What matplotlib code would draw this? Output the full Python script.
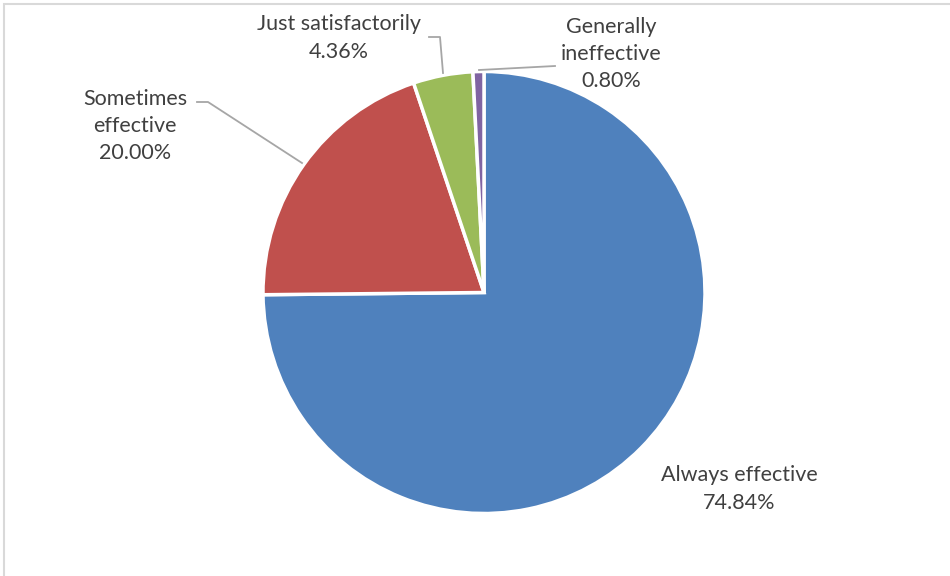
import numpy as np
import matplotlib.pyplot as plt
from matplotlib.patches import Rectangle

labels = ['Always effective', 'Sometimes\neffective', 'Just satisfactorily', 'Generally\nineffective']
values = [74.84, 20.00, 4.36, 0.80]
colors = ['#4F81BD', '#C0504D', '#9BBB59', '#8064A2']

W, H = 950, 576
fig = plt.figure(figsize=(W / 100, H / 100), dpi=100)
ax = fig.add_axes([0, 0, 1, 1])

# pixel y measured from top -> data y
def py(y):
    return H - y

cx, cy, r = 484, 292.5, 221
wedges, _ = ax.pie(values, colors=colors, startangle=90, counterclock=False,
                   center=(cx, py(cy)), radius=r, frame=True,
                   wedgeprops=dict(edgecolor='white', linewidth=2.5))
ax.set_xlim(0, W)
ax.set_ylim(0, H)
ax.axis('off')

txt = dict(fontsize=15.5, color='#404040', family='Lato', ha='center', va='center',
           linespacing=1.45)
line = dict(color='#A6A6A6', lw=1.3)

# data labels
ax.text(739, py(489), labels[0] + '\n' + '%.2f%%' % values[0], **txt)
ax.text(135, py(126), labels[1] + '\n' + '%.2f%%' % values[1], **txt)
ax.text(339, py(38), labels[2] + '\n' + '%.2f%%' % values[2], **txt)
ax.text(611, py(54), labels[3] + '\n' + '%.2f%%' % values[3], **txt)

# leader lines
ax.plot([197, 208, 302], [py(102), py(102), py(163)], **line)
ax.plot([429, 440, 443], [py(37), py(37), py(73)], **line)
ax.plot([555, 479], [py(66), py(70)], **line)

# chart area border (cropped at right/bottom)
fig.patches.append(Rectangle((4 / W, -0.1), 1.2, (H - 4) / H + 0.1,
                             transform=fig.transFigure, fill=False,
                             edgecolor='#D9D9D9', lw=1.5))

fig.savefig('out.png', dpi=100)
